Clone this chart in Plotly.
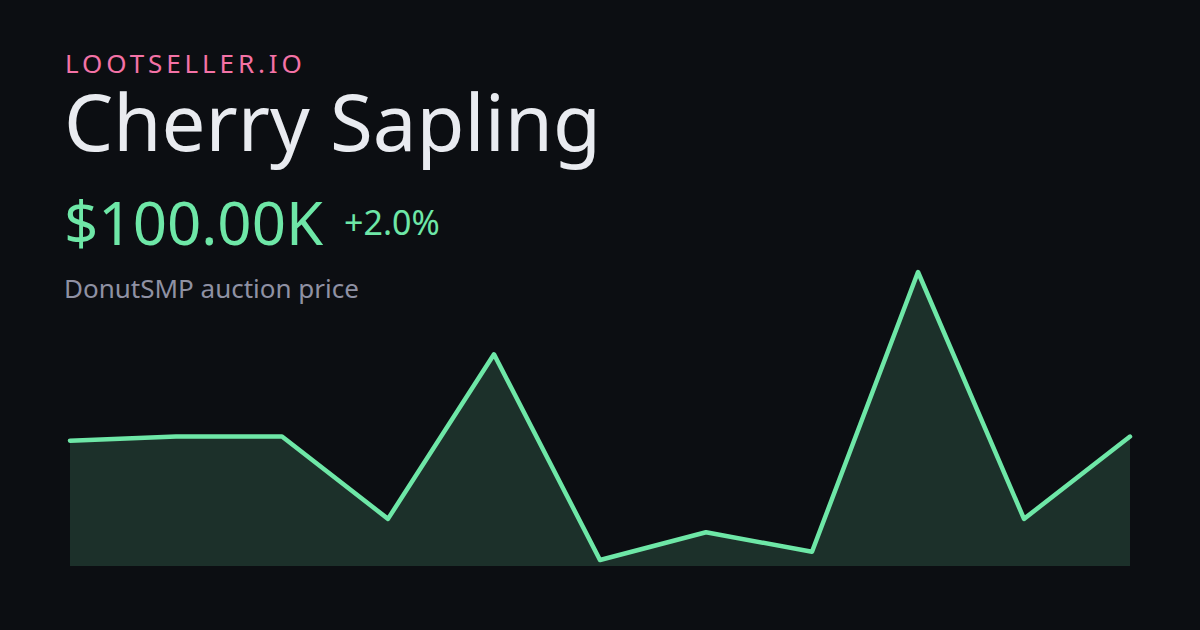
import plotly.graph_objects as go

W, H = 1200, 630
# plot box in pixels, a bit wider than the line so its ends are not clipped
L, R, T, B = 60, 1140, 240, 566

points = list(range(11))
prices = [98, 100, 100, 60, 140, 40, 53.5, 44, 180, 60, 100]

bg = "#0c0e12"
green = "#6ee7a7"
font = "Noto Sans"

labels = [
    ("LOOTSELLER.IO", 65, 63, 26, "#f472a6"),
    ("Cherry Sapling", 64, 121, 78, "#e9ebf0"),
    ("$100.00K", 64, 222, 60, green),
    ("+2.0%", 344, 222, 34, green),
    ("DonutSMP auction price", 64, 288, 26, "#8f91a3"),
]

fig = go.Figure()
fig.add_trace(go.Scatter(x=points, y=prices, mode="lines", fill="tozeroy",
                         fillcolor="rgba(110,231,167,0.16)",
                         line=dict(color=green, width=4.5, shape="linear")))

for text, x, y, size, color in labels:
    fig.add_annotation(text=text, xref="paper", yref="paper",
                       x=(x - L) / (R - L), y=(B - y) / (B - T),
                       xanchor="left", yanchor="middle", showarrow=False,
                       borderpad=0, borderwidth=0,
                       font=dict(family=font, size=size, color=color))

px_per_step = 106
px_per_k = 288 / 140
fig.update_layout(
    width=W, height=H, autosize=False, showlegend=False,
    paper_bgcolor=bg, plot_bgcolor=bg,
    margin=dict(l=L, r=W - R, t=T, b=H - B, pad=0),
    xaxis=dict(visible=False, range=[-10 / px_per_step, 10 + 10 / px_per_step]),
    yaxis=dict(visible=False, range=[40 - 6 / px_per_k, 40 + (560 - T) / px_per_k]),
)

# page margin off, spaced out brand line kept on its left edge, round line ends
js = """
document.body.style.margin = '0';
document.querySelectorAll('.annotation-text').forEach(function (t) {
    if (t.textContent.indexOf('LOOTSELLER') === 0) {
        var w = t.getComputedTextLength();
        t.setAttribute('x', parseFloat(t.getAttribute('x')) - w / 2);
        t.style.textAnchor = 'start';
        t.style.letterSpacing = '3.9px';
    }
});
document.querySelectorAll('.js-line').forEach(function (p) {
    p.style.strokeLinecap = 'round';
    p.style.strokeLinejoin = 'round';
});
"""
fig.write_html("out.html", post_script=js, config={"displayModeBar": False})
